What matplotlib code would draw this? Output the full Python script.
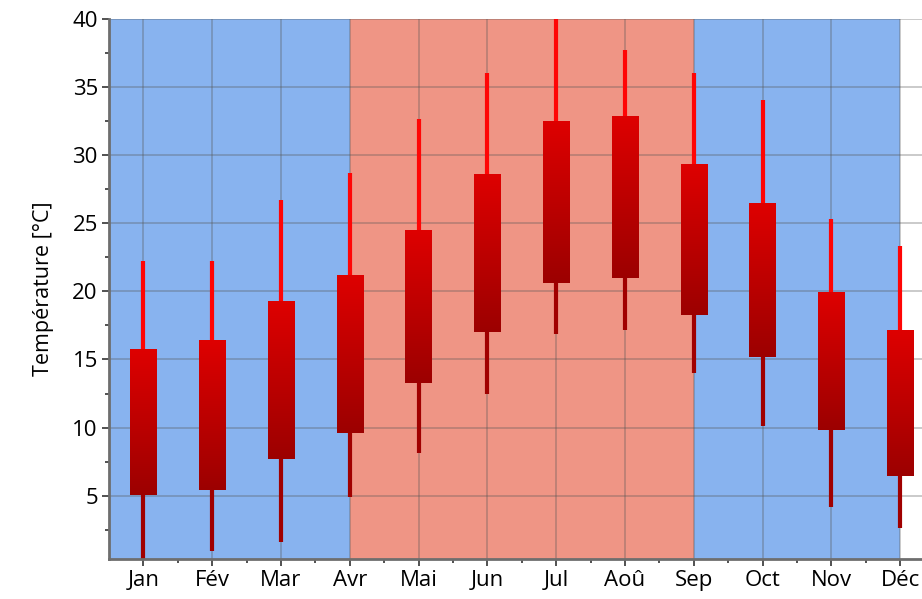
import numpy as np
import matplotlib
matplotlib.use("Agg")
import matplotlib.pyplot as plt
from matplotlib.colors import LinearSegmentedColormap

# Températures mensuelles (min, bas de boîte, haut de boîte, max)
mois = ["Jan", "Fév", "Mar", "Avr", "Mai", "Jun", "Jul", "Aoû", "Sep", "Oct", "Nov", "Déc"]
t_min = [0.3, 0.9, 1.6, 4.9, 8.1, 12.5, 16.9, 17.2, 14.0, 10.1, 4.2, 2.6]
t_bas = [5.05, 5.4, 7.7, 9.6, 13.25, 17.05, 20.6, 20.95, 18.25, 15.15, 9.8, 6.45]
t_haut = [15.75, 16.4, 19.25, 21.2, 24.45, 28.65, 32.45, 32.8, 29.3, 26.45, 19.9, 17.1]
t_max = [22.2, 22.2, 26.7, 28.7, 32.65, 36.05, 40.2, 37.7, 36.0, 34.05, 25.3, 23.35]
ete = ("Avr", "Sep")   # période chaude (fond rouge)

plt.rcParams['font.family'] = ['Open Sans', 'DejaVu Sans']

fig = plt.figure(figsize=(9.22, 5.99), dpi=100)
ax = fig.add_axes([0.1182, 0.0668, 0.8954, 0.9015])

x = np.arange(len(mois))
debut, fin = mois.index(ete[0]), mois.index(ete[1])

# fonds bleu / rouge
bleu = "#88b3ef"
rouge = "#ef9585"
ax.axvspan(-0.5, debut, color=bleu, lw=0, zorder=0)
ax.axvspan(debut, fin, color=rouge, lw=0, zorder=0)
ax.axvspan(fin, x[-1], color=bleu, lw=0, zorder=0)

# dégradé des boîtes
cmap = LinearSegmentedColormap.from_list("boite", ["#9c0000", "#de0000"])
grad = np.linspace(0, 1, 256).reshape(-1, 1)
w = 0.38
for i in x:
    ax.imshow(grad, extent=(i - w / 2, i + w / 2, t_bas[i], t_haut[i]), origin="lower",
              cmap=cmap, aspect="auto", zorder=3, interpolation="bilinear")
ax.vlines(x, t_haut, t_max, color="#ff0505", lw=3, zorder=2.5, capstyle="butt")
ax.vlines(x, t_min, t_bas, color="#a00000", lw=3, zorder=2.5, capstyle="butt")

ax.set_xlim(-0.5, 11.5)
ax.set_ylim(0.35, 40)
ax.set_xticks(x)
ax.set_xticklabels(mois)
ax.set_xticks(x[:-1] + 0.5, minor=True)
ax.set_yticks(np.arange(5, 41, 5))
ax.set_yticks(np.arange(2.5, 40, 5), minor=True)

ax.grid(True, which="major", color="#555555", alpha=0.4, lw=1.1, zorder=1)
for g in ax.get_xgridlines() + ax.get_ygridlines():
    g.set_zorder(1)

for s in ["top", "right"]:
    ax.spines[s].set_visible(False)
for s in ["left", "bottom"]:
    ax.spines[s].set_color("#6e6e6e")
    ax.spines[s].set_linewidth(2)

ax.tick_params(which="major", length=5, width=1.2, color="#333333", labelsize=16, pad=3)
ax.tick_params(which="minor", length=3, width=1.2, color="#333333")
ax.set_ylabel("Température [°C]", fontsize=15.5, labelpad=13)

fig.savefig("out.png", dpi=100)
